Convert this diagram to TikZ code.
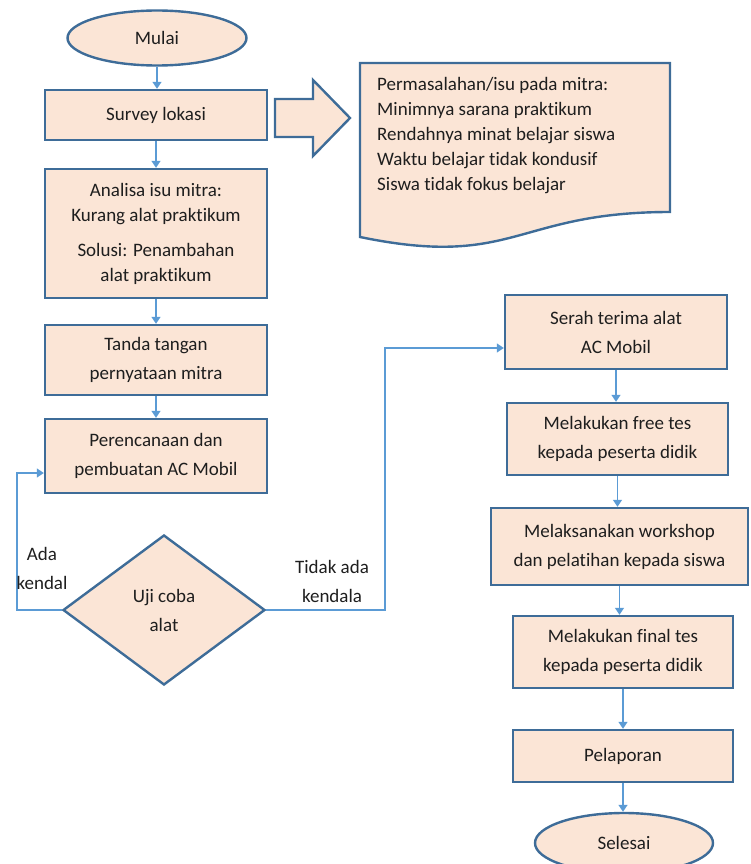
\documentclass[tikz,border=0pt]{standalone}
\usepackage{fontspec}
\setmainfont{Carlito}[Ligatures=NoCommon]
\usetikzlibrary{arrows.meta,shapes.geometric}
\definecolor{fillc}{HTML}{FBE5D6}
\definecolor{edgec}{HTML}{3E6C98}
\definecolor{connc}{HTML}{5B9BD5}
\definecolor{txtc}{HTML}{1E1E1E}
\begin{document}
\begin{tikzpicture}[x=1pt,y=-1pt,
 box/.style={draw=edgec,fill=fillc,line width=2.4pt,rectangle,inner sep=0pt,align=center,text=txtc,font=\fontsize{19}{29}\selectfont},
 term/.style={box,ellipse},
 link/.style={draw=connc,line width=1.5pt,-{Triangle[width=9pt,length=7pt]}},
 lab/.style={text=txtc,font=\fontsize{19}{29}\selectfont,align=center,inner sep=0pt},
 shapefill/.style={draw=edgec,fill=fillc,line width=2.4pt,line join=miter}]
\useasboundingbox (0,0) rectangle (751,864);

\node[term,minimum width=179pt,minimum height=55pt] (mulai) at (157,38) {Mulai};
\node[box,minimum width=222pt,minimum height=50pt] (survey) at (156,115) {Survey lokasi};
\node[box,minimum width=222pt,minimum height=129pt,font=\fontsize{19}{25}\selectfont] (analisa) at (156,233.5) {Analisa isu mitra:\\Kurang alat praktikum\\[10pt]Solusi: Penambahan\\alat praktikum};
\node[box,minimum width=222pt,minimum height=70pt] (tanda) at (156,360) {Tanda tangan\\pernyataan mitra};
\node[box,minimum width=222pt,minimum height=74pt] (peren) at (156,456) {Perencanaan dan\\pembuatan AC Mobil};
\node[box,diamond,minimum width=202pt,minimum height=150pt] (uji) at (164,610) {Uji coba\\alat};

\node[box,minimum width=222pt,minimum height=74pt] (serah) at (616,332) {Serah terima alat\\AC Mobil};
\node[box,minimum width=221pt,minimum height=72pt] (free) at (617.5,439) {Melakukan free tes\\kepada peserta didik};
\node[box,minimum width=257pt,minimum height=77pt] (work) at (619.5,546.5) {Melaksanakan workshop\\dan pelatihan kepada siswa};
\node[box,minimum width=220pt,minimum height=72pt] (final) at (623,652) {Melakukan final tes\\kepada peserta didik};
\node[box,minimum width=220pt,minimum height=52pt] (pelap) at (623,756) {Pelaporan};
\node[term,minimum width=178pt,minimum height=60pt] (selesai) at (624,843) {Selesai};

% block arrow
\draw[shapefill] (275,99) -- (313,99) -- (313,80) -- (350,118) -- (313,156) -- (313,137) -- (275,137) -- cycle;
% document shape
\draw[shapefill] (360,63) -- (670,63) -- (670,212) .. controls (515,212) and (515,269) .. (360,237) -- cycle;
\node[lab,align=left,anchor=west,font=\fontsize{19}{25}\selectfont] (doctext) at (377,136) {Permasalahan/isu pada mitra:\\Minimnya sarana praktikum\\Rendahnya minat belajar siswa\\Waktu belajar tidak kondusif\\Siswa tidak fokus belajar};

% connectors
\draw[link] (mulai.south) -- (mulai.south |- survey.north);
\draw[link] (survey.south) -- (survey.south |- analisa.north);
\draw[link] (analisa.south) -- (analisa.south |- tanda.north);
\draw[link] (tanda.south) -- (tanda.south |- peren.north);

\coordinate (lb) at (17,610);
\coordinate (lt) at (17,473);
\draw[link] (uji.west) -- (lb) -- (lt) -- (lt -| peren.west);
\coordinate (rb) at (385,610);
\coordinate (rt) at (385,348);
\draw[link] (uji.east) -- (rb) -- (rt) -- (rt -| serah.west);

\draw[link] (serah.south) -- (serah.south |- free.north);
\draw[link] (free.south) -- (free.south |- work.north);
\draw[link] (work.south) -- (work.south |- final.north);
\draw[link] (final.south) -- (final.south |- pelap.north);
\draw[link] (pelap.south) -- (pelap.south |- selesai.north);

\node[lab] (ada) at (42,568) {Ada\\kendal};
\node[lab] (tidak) at (332,581) {Tidak ada\\kendala};
\end{tikzpicture}
\end{document}
